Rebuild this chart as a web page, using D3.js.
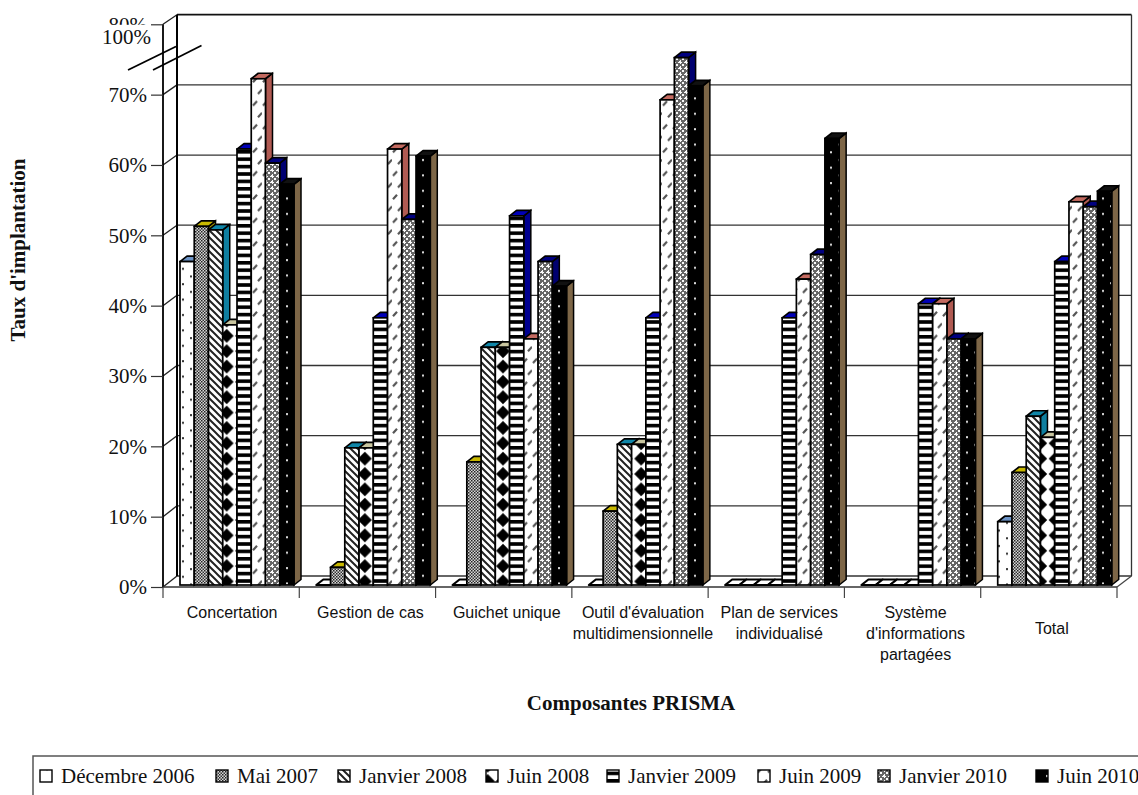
<!DOCTYPE html>
<html>
<head>
<meta charset="utf-8">
<script src="https://cdnjs.cloudflare.com/ajax/libs/d3/7.8.5/d3.min.js"></script>
<style>
  html, body { margin: 0; padding: 0; background: #fff; overflow: hidden; }
  .serif { font-family: "Liberation Serif", "Times New Roman", serif; }
  .sans { font-family: "Liberation Sans", Arial, sans-serif; }
</style>
</head>
<body>
<div id="chart"></div>
<script>
// Implementation rate of the PRISMA components, by survey date
const categories = [
  ["Concertation"],
  ["Gestion de cas"],
  ["Guichet unique"],
  ["Outil d'évaluation", "multidimensionnelle"],
  ["Plan de services", "individualisé"],
  ["Système", "d'informations", "partagées"],
  ["Total"]
];
const seriesNames = ["Décembre 2006", "Mai 2007", "Janvier 2008", "Juin 2008",
                     "Janvier 2009", "Juin 2009", "Janvier 2010", "Juin 2010"];
const decembre2006 = [46, 0, 0, 0, 0, 0, 9];
const mai2007      = [51, 2.5, 17.5, 10.5, 0, 0, 16];
const janvier2008  = [50.5, 19.5, 33.8, 20, 0, 0, 24];
const juin2008     = [37, 19.5, 33.8, 20, 0, 0, 21];
const janvier2009  = [62, 38, 52.5, 38, 38, 40, 46];
const juin2009     = [72, 62, 35, 69, 43.5, 40, 54.5];
const janvier2010  = [60, 52, 46, 75, 47, 35, 53.8];
const juin2010     = [57, 61, 42.5, 71, 63.5, 35, 56];
const seriesValues = [decembre2006, mai2007, janvier2008, juin2008,
                      janvier2009, juin2009, janvier2010, juin2010];
const yTicks = [0, 10, 20, 30, 40, 50, 60, 70, 80];
const topColors  = ["#6c93c6", "#c8b800", "#0f86a8", "#c9c6a0", "#0000b8", "#c46a60", "#000080", "#111111"];
const sideColors = ["#6c93c6", "#a89a00", "#0f7fa0", "#b5b28c", "#000090", "#b05a52", "#000070", "#7d6647"];
const legendSwatchX = [40, 216, 338, 486, 607, 758, 878, 1036];

const W = 1138, H = 795;
const svg = d3.select("#chart").append("svg").attr("width", W).attr("height", H)
  .style("display", "block");
const defs = svg.append("defs");

// Fill patterns, one per series, laid out in page space
function tile(id, w, h, bg, ox = 0, oy = 0) {
  const p = defs.append("pattern").attr("id", id).attr("patternUnits", "userSpaceOnUse")
    .attr("width", w).attr("height", h).attr("x", ox).attr("y", oy);
  p.append("rect").attr("width", w).attr("height", h).attr("fill", bg);
  return p;
}
// sparse dots
const p0 = tile("s0", 16, 15.4, "#fff", 0, 3);
p0.append("rect").attr("x", 6).attr("y", 3).attr("width", 2).attr("height", 2).attr("fill", "#333");
p0.append("rect").attr("x", 14).attr("y", 10.7).attr("width", 2).attr("height", 2).attr("fill", "#333");
// dense grey stipple
const p1 = tile("s1", 3, 3, "#d8d8d8");
p1.append("rect").attr("width", 1.5).attr("height", 1.5).attr("fill", "#222");
p1.append("rect").attr("x", 1.5).attr("y", 1.5).attr("width", 1.5).attr("height", 1.5).attr("fill", "#333");
// descending diagonals
const p2 = tile("s2", 7, 7, "#fff");
p2.append("path").attr("d", "M-2,-2L9,9M-9,-2L2,9M5,-2L16,9")
  .attr("stroke", "#222").attr("stroke-width", 2).attr("fill", "none");
// large diamonds
const p3 = tile("s3", 15.35, 15.35, "#fff", 11.8, 13.5);
p3.append("path").attr("d", "M0,-6.9L6.9,0L0,6.9L-6.9,0Z M15.35,-6.9L22.25,0L15.35,6.9L8.45,0Z M0,8.45L6.9,15.35L0,22.25L-6.9,15.35Z M15.35,8.45L22.25,15.35L15.35,22.25L8.45,15.35Z")
  .attr("fill", "#000");
// horizontal bands
const p4 = tile("s4", 8, 7.4, "#fff", 0, 2);
p4.append("rect").attr("width", 8).attr("height", 3.6).attr("fill", "#000");
// short rising dashes
const p5 = tile("s5", 10, 23.4, "#fff", 2, 2);
p5.append("path").attr("d", "M1,10L5,5.5M6,21.7L10,17.2")
  .attr("stroke", "#555").attr("stroke-width", 2.2).attr("fill", "none");
// open lattice
const p6 = tile("s6", 6, 6, "#666");
p6.append("path").attr("d", "M1,1h2v2h-2z M4,4h2v2h-2z M0,2h1v1h-1z M3,2h1v1h-1z M2,0h1v1h-1z M2,3h1v1h-1z")
  .attr("fill", "#fafafa");
// black ground with white dots
const p7 = tile("s7", 16, 15.4, "#000", 0, 2);
p7.append("rect").attr("x", 6).attr("y", 3).attr("width", 2).attr("height", 2).attr("fill", "#ddd");
p7.append("rect").attr("x", 14).attr("y", 10.7).attr("width", 2).attr("height", 2).attr("fill", "#ddd");

// Scales: front plane, back wall and bar tops
const x0 = d3.scaleBand().domain(d3.range(categories.length)).range([163, 1117]);
const xBar = d3.scaleBand().domain(d3.range(seriesNames.length)).range([17, 131]);
const yFront = d3.scaleLinear().domain([0, 80]).range([587, 24.3]);
const yBack = d3.scaleLinear().domain([0, 80]).range([576, 14.7]);
const yBar = d3.scaleLinear().domain([0, 80]).range([585, 22.5]);
const depthX = 7, depthY = 5.5;
const backLeft = 177, backRight = 1131.5;
const frontLeft = x0.range()[0], frontRight = x0.range()[1];

// Back wall, side wall and floor
const walls = svg.append("g");
walls.selectAll("line.grid").data(yTicks.slice(0, -1)).join("line").attr("class", "grid")
  .attr("x1", backLeft).attr("x2", backRight)
  .attr("y1", d => yBack(d)).attr("y2", d => yBack(d))
  .attr("stroke", "#333").attr("stroke-width", 1.3);
walls.selectAll("line.wall").data(yTicks).join("line").attr("class", "wall")
  .attr("x1", frontLeft).attr("x2", backLeft)
  .attr("y1", d => yFront(d)).attr("y2", d => yBack(d))
  .attr("stroke", "#222").attr("stroke-width", 1.3);
const frame = [
  [backLeft, yBack(80), backRight, yBack(80), "#111", 1.8],
  [backLeft, yBack(0), backLeft, yBack(80), "#000", 2],
  [backRight, yBack(0), backRight, yBack(80), "#333", 1.3],
  [frontLeft, yFront(0), frontLeft, yFront(80), "#000", 1.8],
  [frontRight, yFront(0), backRight, yBack(0), "#444", 1.2],
  [frontLeft, yFront(0), frontRight, yFront(0), "#333", 1.6]
];
walls.selectAll("line.frame").data(frame).join("line").attr("class", "frame")
  .attr("x1", d => d[0]).attr("y1", d => d[1]).attr("x2", d => d[2]).attr("y2", d => d[3])
  .attr("stroke", d => d[4]).attr("stroke-width", d => d[5]);

// Value axis, front plane
const axisY = svg.append("g").attr("transform", `translate(${frontLeft},0)`)
  .call(d3.axisLeft(yFront).tickValues(yTicks).tickSize(12).tickPadding(4).tickFormat(d => d + "%"));
axisY.select(".domain").remove();
axisY.selectAll("line").attr("stroke", "#333").attr("stroke-width", 1.2);
axisY.selectAll("text").attr("font-size", 21).attr("fill", "#111")
  .attr("font-family", '"Liberation Serif", serif');

// The axis is broken: the top of the scale reads 100%
svg.append("rect").attr("x", 100).attr("y", yFront(80) + 0.5).attr("width", 51).attr("height", 24).attr("fill", "#fff");
svg.append("text").attr("class", "serif").attr("x", 151).attr("y", 44).attr("text-anchor", "end")
  .attr("font-size", 21).attr("fill", "#111").text("100%");
const breakMarks = [[128, 70, 176, 46.5], [153, 70, 201.5, 45.5]];
svg.selectAll("line.break").data(breakMarks).join("line").attr("class", "break")
  .attr("x1", d => d[0]).attr("y1", d => d[1]).attr("x2", d => d[2]).attr("y2", d => d[3])
  .attr("stroke", "#000").attr("stroke-width", 1.8);

// Category axis: ticks sit on the group boundaries
const tickEdges = d3.range(categories.length + 1).map(i => frontLeft + i * x0.step());
svg.selectAll("line.xtick").data(tickEdges).join("line").attr("class", "xtick")
  .attr("x1", d => d).attr("x2", d => d).attr("y1", yFront(0)).attr("y2", yFront(0) + 11)
  .attr("stroke", "#444").attr("stroke-width", 1.2);
const catLabels = svg.selectAll("text.cat").data(categories).join("text")
  .attr("class", "cat sans").attr("text-anchor", "middle").attr("font-size", 16).attr("fill", "#111");
catLabels.each(function(lines, i) {
  const lowered = lines.length === 1 && i === categories.length - 1;
  d3.select(this).selectAll("tspan").data(lines).join("tspan")
    .attr("x", x0(i) + x0.bandwidth() / 2 + (i === 0 ? 1 : 3))
    .attr("y", (d, k) => (lowered ? 634 : 618) + k * 21)
    .text(d => d);
});

// Bars: each one has a patterned front, a top face and a right face
const groups = svg.selectAll("g.group").data(categories).join("g").attr("class", "group");
groups.each(function(_, ci) {
  const g = d3.select(this);
  const bars = seriesNames.map((name, si) => ({ si, v: seriesValues[si][ci], l: x0(ci) + xBar(si) }));
  const bar = g.selectAll("g.bar").data(bars).join("g").attr("class", "bar");
  const w = xBar.bandwidth();
  bar.append("path")
    .attr("d", d => {
      const r = d.l + w, t = yBar(d.v), b = yBar(0);
      return `M${r},${t}L${r + depthX},${t - depthY}L${r + depthX},${b - depthY}L${r},${b}Z`;
    })
    .attr("fill", d => sideColors[d.si]).attr("stroke", "#000").attr("stroke-width", 1.5);
  bar.append("path")
    .attr("d", d => {
      const t = yBar(d.v);
      return `M${d.l},${t}L${d.l + depthX},${t - depthY}L${d.l + w + depthX},${t - depthY}L${d.l + w},${t}Z`;
    })
    .attr("fill", d => d.v === 0 ? "#fff" : topColors[d.si])
    .attr("stroke", "#000").attr("stroke-width", d => d.v === 0 ? 2.2 : 1.7).attr("stroke-linejoin", "round");
  bar.append("rect")
    .attr("x", d => d.l).attr("width", w)
    .attr("y", d => yBar(d.v)).attr("height", d => yBar(0) - yBar(d.v))
    .attr("fill", d => `url(#s${d.si})`)
    .attr("stroke", "#000").attr("stroke-width", 1.7);
});

// Axis titles
svg.append("text").attr("class", "serif").attr("text-anchor", "middle")
  .attr("x", 631).attr("y", 710).attr("font-size", 21).attr("font-weight", "bold").attr("fill", "#111")
  .text("Composantes PRISMA");
svg.append("text").attr("class", "serif").attr("text-anchor", "middle")
  .attr("transform", "translate(25,250) rotate(-90)")
  .attr("font-size", 21).attr("font-weight", "bold").attr("fill", "#111")
  .text("Taux d'implantation");

// Legend
svg.append("path").attr("d", `M${W + 2},756H33V${H + 2}`).attr("fill", "none")
  .attr("stroke", "#555").attr("stroke-width", 1.5);
const legend = svg.selectAll("g.leg").data(seriesNames).join("g").attr("class", "leg");
legend.append("rect")
  .attr("x", (d, i) => legendSwatchX[i]).attr("y", 770).attr("width", 12).attr("height", 12)
  .attr("fill", (d, i) => `url(#s${i})`).attr("stroke", "#000").attr("stroke-width", 1.4);
legend.append("text").attr("class", "serif")
  .attr("x", (d, i) => legendSwatchX[i] + 21).attr("y", 783)
  .attr("font-size", 21).attr("fill", "#111").text(d => d);
</script>
</body>
</html>
